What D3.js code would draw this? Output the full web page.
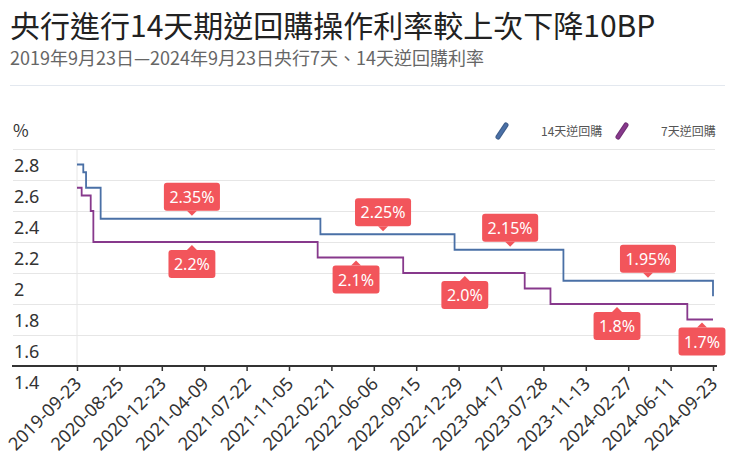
<!DOCTYPE html>
<html>
<head>
<meta charset="utf-8">
<script src="https://cdn.jsdelivr.net/npm/d3@7"></script>
<style>
  body { margin: 0; background: #fff; }
  svg { font-family: "Noto Sans CJK TC", "Noto Sans", sans-serif; }
</style>
</head>
<body>
<script>
// tick labels of the category axis (evenly spaced)
var tickLabels = ["2019-09-23", "2020-08-25", "2020-12-23", "2021-04-09", "2021-07-22", "2021-11-05",
  "2022-02-21", "2022-06-06", "2022-09-15", "2022-12-29", "2023-04-17", "2023-07-28",
  "2023-11-13", "2024-02-27", "2024-06-11", "2024-09-23"];

// 14天逆回購 (rate from that date on)
var rate14Dates = ["2019-09-23", "2019-11-12", "2019-12-04", "2020-03-29", "2022-01-24", "2022-12-19", "2023-09-17", "2024-09-23"];
var rate14Values = [2.70, 2.65, 2.55, 2.35, 2.25, 2.15, 1.95, 1.85];

// 7天逆回購
var rate7Dates = ["2019-09-23", "2019-10-30", "2020-01-10", "2020-01-31", "2022-01-17", "2022-08-15", "2023-06-13", "2023-08-15", "2024-07-22", "2024-09-23"];
var rate7Values = [2.55, 2.50, 2.40, 2.20, 2.10, 2.00, 1.90, 1.80, 1.70, 1.70];

// callouts
var noteDates = ["2021-03-09", "2021-03-09", "2022-06-28", "2022-04-23", "2023-01-14", "2023-05-09", "2024-04-16", "2024-01-30", "2024-08-27"];
var noteSeries = ["14", "7", "14", "7", "7", "14", "14", "7", "7"];
var noteTexts = ["2.35%", "2.2%", "2.25%", "2.1%", "2.0%", "2.15%", "1.95%", "1.8%", "1.7%"];

var yTicks = [1.4, 1.6, 1.8, 2, 2.2, 2.4, 2.6, 2.8];

var width = 748, height = 460;
var blue = "#4a70a6", purple = "#87398c", red = "#f2555b";

var parse = d3.timeParse("%Y-%m-%d");

var svg = d3.select("body").append("svg")
  .attr("width", width)
  .attr("height", height);

// titles
svg.append("text")
  .attr("x", 10).attr("y", 37)
  .attr("font-size", 30).attr("fill", "#222")
  .text("央行進行14天期逆回購操作利率較上次下降10BP");
svg.append("text")
  .attr("x", 10).attr("y", 65)
  .attr("font-size", 18).attr("fill", "#666")
  .text("2019年9月23日—2024年9月23日央行7天、14天逆回購利率");
svg.append("line")
  .attr("x1", 10).attr("x2", 725).attr("y1", 85.5).attr("y2", 85.5)
  .attr("stroke", "#e3e8ef");

// scales
var xPoint = d3.scalePoint().domain(tickLabels).range([77, 713]);
var x = d3.scaleTime()
  .domain(tickLabels.map(parse))
  .range(tickLabels.map(function(d) { return xPoint(d); }));
var y = d3.scaleLinear().domain([1.4, 2.8]).range([366, 149]);

// y grid + labels
var gy = svg.append("g")
  .attr("transform", "translate(13,0)")
  .call(d3.axisRight(y).tickValues(yTicks).tickSize(702).tickFormat(function(d) { return String(d); }));
gy.select(".domain").remove();
gy.selectAll(".tick line").attr("stroke", "#e6e6e6");
gy.selectAll(".tick text")
  .attr("x", 1).attr("dy", 22)
  .attr("font-size", 18).attr("fill", "#333")
  .attr("font-family", "Noto Sans, sans-serif");
svg.append("text")
  .attr("x", 13).attr("y", 137)
  .attr("font-size", 17).attr("fill", "#333")
  .text("%");

// first category line
svg.append("line")
  .attr("x1", xPoint(tickLabels[0])).attr("x2", xPoint(tickLabels[0]))
  .attr("y1", y(2.8)).attr("y2", y(1.4))
  .attr("stroke", "#e6e6e6");

// x axis
var gx = svg.append("g")
  .attr("transform", "translate(0," + y(1.4) + ")")
  .call(d3.axisBottom(xPoint).tickSize(5));
gx.select(".domain").remove();
gx.selectAll(".tick line").attr("stroke", "#333").attr("stroke-width", 1.5);
gx.selectAll(".tick text")
  .attr("y", 0).attr("dy", 0).attr("x", 0)
  .attr("text-anchor", "end")
  .attr("transform", "translate(5,19) rotate(-45)")
  .attr("font-size", 18).attr("fill", "#333")
  .attr("font-family", "Noto Sans, sans-serif");
svg.append("line")
  .attr("x1", 12).attr("x2", 717)
  .attr("y1", y(1.4)).attr("y2", y(1.4))
  .attr("stroke", "#333").attr("stroke-width", 2);

// step lines
var line = d3.line()
  .x(function(d) { return x(d[0]); })
  .y(function(d) { return y(d[1]); })
  .curve(d3.curveStepAfter);

var data14 = rate14Dates.map(function(d, i) { return [parse(d), rate14Values[i]]; });
var data7 = rate7Dates.map(function(d, i) { return [parse(d), rate7Values[i]]; });

svg.append("path").datum(data14)
  .attr("d", line).attr("fill", "none")
  .attr("stroke", blue).attr("stroke-width", 1.8);
svg.append("path").datum(data7)
  .attr("d", line).attr("fill", "none")
  .attr("stroke", purple).attr("stroke-width", 1.8);

function valueAt(dates, values, date) {
  var v = values[0];
  dates.forEach(function(d, i) { if (parse(d) <= date) v = values[i]; });
  return v;
}

// callouts
noteDates.forEach(function(d, i) {
  var date = parse(d);
  var is14 = noteSeries[i] == "14";
  var v = is14 ? valueAt(rate14Dates, rate14Values, date) : valueAt(rate7Dates, rate7Values, date);
  var cx = x(date), cy = y(v);
  var g = svg.append("g");
  var t = g.append("text")
    .attr("font-size", 16).attr("fill", "#fff")
    .attr("text-anchor", "middle")
    .attr("font-family", "Noto Sans, sans-serif")
    .text(noteTexts[i]);
  var w = t.node().getComputedTextLength() + 11, h = 28;
  var tip = is14 ? cy - 3 : cy + 3;
  var edge = is14 ? cy - 8 : cy + 8;
  var top = is14 ? edge - h : edge;
  g.insert("rect", "text")
    .attr("x", cx - w / 2).attr("y", top)
    .attr("width", w).attr("height", h)
    .attr("rx", 3).attr("fill", red);
  g.insert("path", "text")
    .attr("d", "M" + (cx - 5) + "," + edge + "L" + cx + "," + tip + "L" + (cx + 5) + "," + edge + "Z")
    .attr("fill", red);
  t.attr("x", cx).attr("y", top + h / 2 + 6);
});

// legend
var legend = [["14天逆回購", blue, 502], ["7天逆回購", purple, 622]];
legend.forEach(function(l) {
  svg.append("line")
    .attr("x1", l[2] - 4).attr("y1", 137).attr("x2", l[2] + 4).attr("y2", 125)
    .attr("stroke", d3.color(l[1]).darker(0.5)).attr("stroke-width", 5)
    .attr("stroke-linecap", "round");
  svg.append("line")
    .attr("x1", l[2] - 4).attr("y1", 137).attr("x2", l[2] + 4).attr("y2", 125)
    .attr("stroke", l[1]).attr("stroke-width", 3)
    .attr("stroke-linecap", "round");
  svg.append("text")
    .attr("x", l[2] + 39).attr("y", 136)
    .attr("font-size", 12).attr("fill", "#555")
    .text(l[0]);
});
</script>
</body>
</html>
